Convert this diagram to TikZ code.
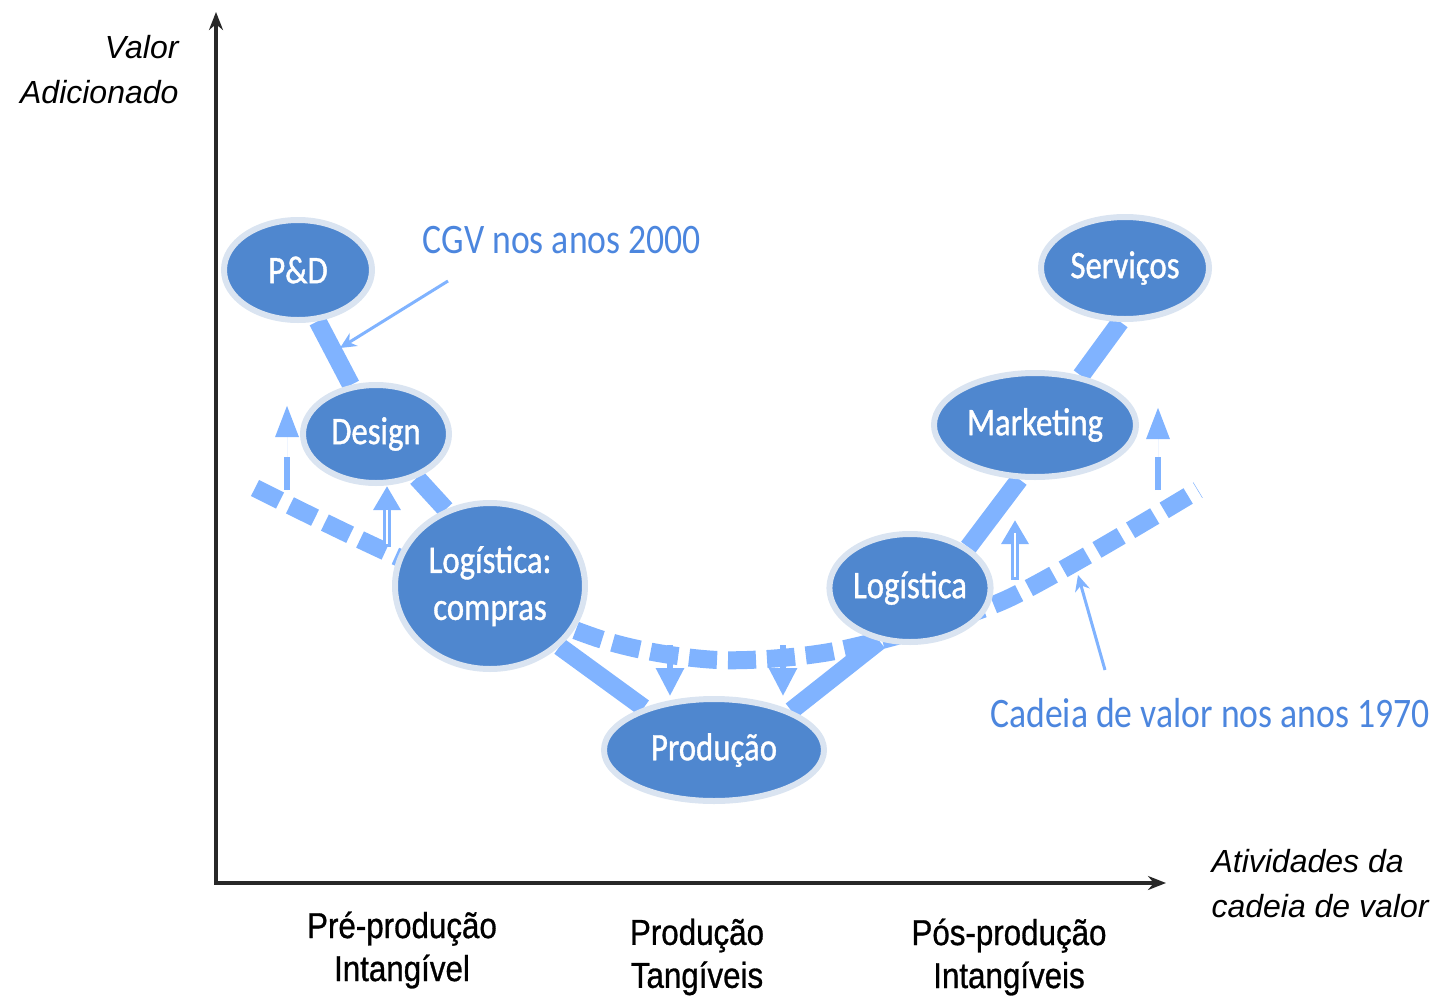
\documentclass[tikz,border=0pt]{standalone}
\usepackage{fontspec}
\setmainfont{Liberation Sans}
\newfontfamily\calfont[FakeStretch=0.85]{Carlito}
\newfontfamily\ellfont[FakeStretch=0.84,FakeBold=1]{Carlito}
\newfontfamily\narfont[FakeStretch=0.87,FakeBold=0.8]{Liberation Sans}
\usetikzlibrary{shapes.geometric,arrows.meta,backgrounds}
\definecolor{ellfill}{RGB}{79,135,207}
\definecolor{ellrim}{RGB}{218,228,241}
\definecolor{lb}{RGB}{128,179,255}
\definecolor{notec}{RGB}{76,134,222}
\definecolor{axisc}{RGB}{40,40,40}
\tikzset{
  ell/.style={ellipse, fill=ellfill, draw=ellrim, line width=6pt, inner sep=0pt,
    text=white, align=center, font=\ellfont\fontsize{39pt}{47pt}\selectfont},
  band/.style={draw=lb, line width=18pt},
  chainseventy/.style={draw=lb, line width=18pt, dash pattern=on 28pt off 11pt},
  upgarrow/.style={draw=lb, fill=lb, line width=6pt, dash pattern=on 33pt off 20pt,
    -{Triangle[length=32pt,width=22pt]}},
  hollowarrow/.style={draw=lb, fill=lb, line width=8pt, -{Triangle[length=24pt,width=26pt]}},
  downarrow/.style={draw=lb, fill=lb, line width=6pt, -{Triangle[length=28pt,width=27pt]}},
  notetext/.style={text=notec, font=\calfont\fontsize{42pt}{48pt}\selectfont},
  notearrow/.style={draw=lb, line width=3pt, -{Stealth[length=16pt,width=15pt]}},
  axislab/.style={font=\narfont\fontsize{36pt}{43pt}\selectfont, align=center},
  axistitle/.style={font=\itshape\fontsize{32pt}{45pt}\selectfont},
  axisline/.style={draw=axisc, line width=3.5pt}
}
\begin{document}
\begin{tikzpicture}[x=1pt,y=-1pt]
\useasboundingbox (0,0) rectangle (1436,999);

% axes
\coordinate (ytop) at (216,12);
\coordinate (O) at (216,883);
\coordinate (xend) at (1166,883);
\draw[axisline, {Stealth[length=18pt,width=14pt]}-{Stealth[length=18pt,width=14pt]}] (ytop) -- (O) -- (xend);

\node[axistitle, anchor=east, align=right] (ylab) at (182,70) {Valor\\Adicionado};
\node[axistitle, anchor=west, align=left] (xlab) at (1208,884) {Atividades da\\cadeia de valor};

\node[axislab] (pre) at (402,950) {Pré-produção\\Intangível};
\node[axislab] (mid) at (697,957) {Produção\\Tangíveis};
\node[axislab] (pos) at (1009,957) {Pós-produção\\Intangíveis};

% nodes
\node[ell, minimum width=148pt, minimum height=100pt] (pd) at (298,270) {P\&D};
\node[ell, minimum width=146pt, minimum height=98pt] (design) at (376,434) {Design};
\node[ell, minimum width=190pt, minimum height=166pt] (logc) at (490,586) {Logística:\\compras};
\node[ell, minimum width=220pt, minimum height=102pt] (prod) at (714,750) {Produção};
\node[ell, minimum width=158pt, minimum height=108pt] (logi) at (910,588) {Logística};
\node[ell, minimum width=202pt, minimum height=104pt] (mkt) at (1035,425) {Marketing};
\node[ell, minimum width=168pt, minimum height=102pt] (serv) at (1125,268) {Serviços};

\begin{pgfonlayer}{background}
  % value chain of the 1970s (dashed)
  \draw[chainseventy] plot[smooth, tension=0.45] coordinates
    {(255,488) (400,558) (600,639) (718,660) (840,650) (1005,600) (1198,490)};
  % global value chain (solid)
  \draw[band] (pd.-69) -- (design.117);
  \draw[band] (design.-47) -- (logc.120);
  \draw[band] (logc.-41) -- (prod.149);
  \draw[band] (prod.27) -- (logi.-120);
  \draw[band] (logi.35) -- (mkt.-106);
  \draw[band] (mkt.47) -- (serv.-95);
\end{pgfonlayer}

% upgrading arrows
\coordinate (ua1) at (287,490);
\coordinate (ua1t) at (287,405);
\draw[upgarrow] (ua1) -- (ua1t);
\coordinate (ua2) at (1158,490);
\coordinate (ua2t) at (1158,407);
\draw[upgarrow] (ua2) -- (ua2t);

\coordinate (ha1) at (387,547);
\draw[hollowarrow] (ha1) -- (ha1 |- design.south);
\draw[white, line width=2.5pt] (387,544) -- (387,510);
\coordinate (ha2) at (1015,580);
\coordinate (ha2t) at (1015,520);
\draw[hollowarrow] (ha2) -- (ha2t);
\draw[white, line width=2.5pt] (1015,577) -- (1015,533);

\coordinate (da1) at (670,645);
\coordinate (da2) at (783,645);
\draw[downarrow] (da1) -- (da1 |- prod.north);
\draw[downarrow] (da2) -- (da2 |- prod.north);

% annotations
\node[notetext] (cgv) at (562,240) {CGV nos anos 2000};
\coordinate (cgvs) at (448,281);
\coordinate (cgvt) at (340,348);
\draw[notearrow] (cgvs) -- (cgvt);

\node[notetext] (cad) at (1210,713) {Cadeia de valor nos anos 1970};
\coordinate (cads) at (1105,670);
\coordinate (cadt) at (1078,575);
\draw[notearrow] (cads) -- (cadt);
\end{tikzpicture}
\end{document}
